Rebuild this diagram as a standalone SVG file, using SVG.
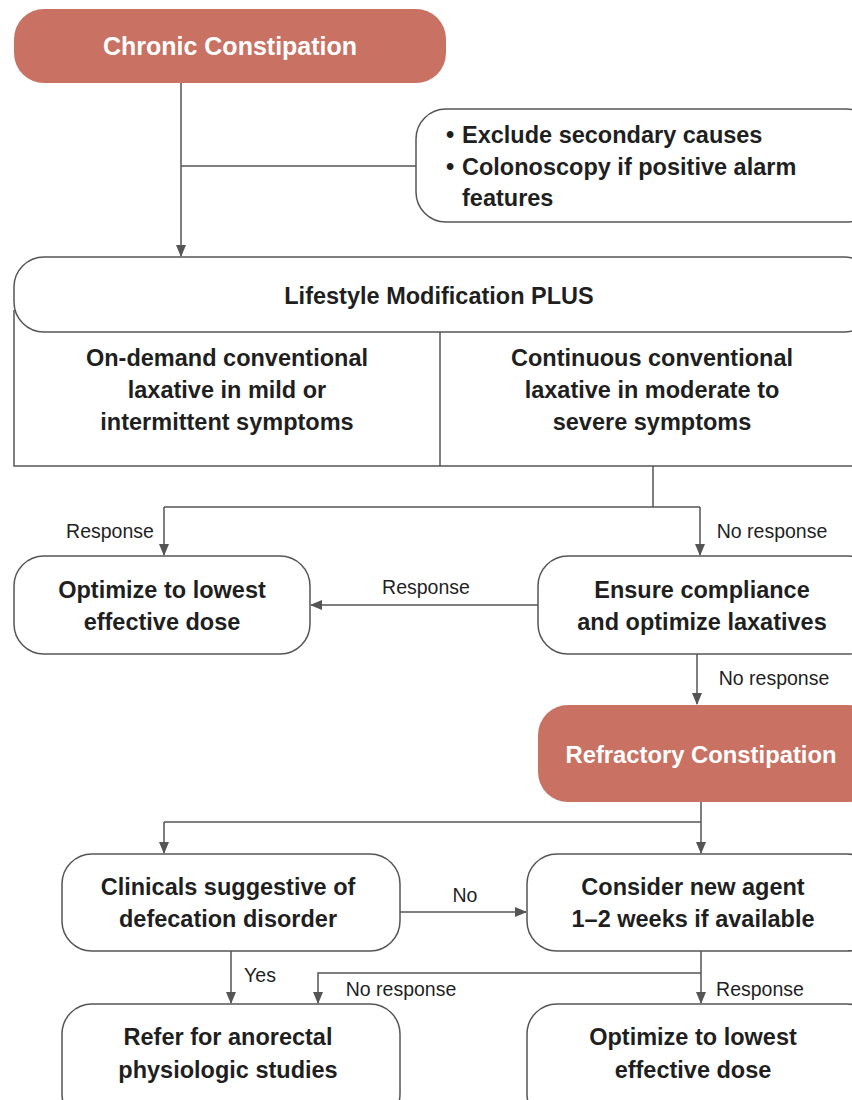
<svg xmlns="http://www.w3.org/2000/svg" width="852" height="1100" viewBox="0 0 852 1100">
<defs>
<marker id="ah" markerWidth="12" markerHeight="10" refX="11" refY="5" orient="auto" markerUnits="userSpaceOnUse">
<path d="M0,0 L12,5 L0,10 z" fill="#555"/>
</marker>
<style>
.box{fill:#fff;stroke:#555;stroke-width:1.5}
.red{fill:#C97163;stroke:none}
.t{font-family:"Liberation Sans",Arial,sans-serif;font-size:23.5px;font-weight:bold;fill:#1f1f1f;text-anchor:middle}
.ts{font-family:"Liberation Sans",Arial,sans-serif;font-size:23.5px;font-weight:bold;fill:#1f1f1f}
.tw{font-family:"Liberation Sans",Arial,sans-serif;font-size:25px;font-weight:bold;fill:#fff;text-anchor:middle}
.lb{font-family:"Liberation Sans",Arial,sans-serif;font-size:19.5px;fill:#1f1f1f;text-anchor:middle}
.c{fill:none;stroke:#555;stroke-width:1.5}
</style>
</defs>
<rect width="852" height="1100" fill="#fff"/>
<g id="connectors">
<path class="c" d="M181,83 V256" marker-end="url(#ah)"/>
<path class="c" d="M181,166 H416"/>
<path class="c" d="M653,466 V507"/>
<path class="c" d="M164,507 H700"/>
<path class="c" d="M164,507 V555" marker-end="url(#ah)"/>
<path class="c" d="M700,507 V555" marker-end="url(#ah)"/>
<path class="c" d="M538,605 H311" marker-end="url(#ah)"/>
<path class="c" d="M697,654 V704" marker-end="url(#ah)"/>
<path class="c" d="M701,802 V853" marker-end="url(#ah)"/>
<path class="c" d="M164,822 H701"/>
<path class="c" d="M164,822 V853" marker-end="url(#ah)"/>
<path class="c" d="M400,912 H526" marker-end="url(#ah)"/>
<path class="c" d="M231,951 V1003" marker-end="url(#ah)"/>
<path class="c" d="M701,951 V1003" marker-end="url(#ah)"/>
<path class="c" d="M701,973 H318 V1003" marker-end="url(#ah)"/>
<text class="lb" x="110" y="538">Response</text>
<text class="lb" x="772" y="538">No response</text>
<text class="lb" x="426" y="594">Response</text>
<text class="lb" x="774" y="685">No response</text>
<text class="lb" x="465" y="902">No</text>
<text class="lb" x="260" y="982">Yes</text>
<text class="lb" x="401" y="996">No response</text>
<text class="lb" x="760" y="996">Response</text>
</g>
<g id="chronic">
<rect class="red" x="14" y="9" width="432" height="74" rx="30"/>
<text class="tw" x="230" y="55">Chronic Constipation</text>
</g>
<g id="exclude">
<rect class="box" x="416" y="109" width="460" height="113" rx="30"/>
<text class="ts" x="446" y="143">•</text>
<text class="ts" x="462" y="143">Exclude secondary causes</text>
<text class="ts" x="446" y="175">•</text>
<text class="ts" x="462" y="175">Colonoscopy if positive alarm</text>
<text class="ts" x="462" y="206">features</text>
</g>
<g id="lifestyle">
<path class="box" d="M14,310 V466 H870"/>
<path class="c" d="M440,332 V466"/>
<rect class="box" x="14" y="257" width="860" height="75" rx="30"/>
<text class="t" x="439" y="304">Lifestyle Modification PLUS</text>
<text class="t" x="227" y="366">On-demand conventional</text>
<text class="t" x="227" y="398">laxative in mild or</text>
<text class="t" x="227" y="430">intermittent symptoms</text>
<text class="t" x="652" y="366">Continuous conventional</text>
<text class="t" x="652" y="398">laxative in moderate to</text>
<text class="t" x="652" y="430">severe symptoms</text>
</g>
<g id="optimize1">
<rect class="box" x="14" y="556" width="296" height="98" rx="30"/>
<text class="t" x="162" y="598">Optimize to lowest</text>
<text class="t" x="162" y="630">effective dose</text>
</g>
<g id="ensure">
<rect class="box" x="538" y="556" width="340" height="98" rx="30"/>
<text class="t" x="702" y="598">Ensure compliance</text>
<text class="t" x="702" y="630">and optimize laxatives</text>
</g>
<g id="refractory">
<rect class="red" x="538" y="705" width="340" height="97" rx="30"/>
<text class="tw" x="701" y="763" style="font-size:23.8px">Refractory Constipation</text>
</g>
<g id="clinicals">
<rect class="box" x="62" y="854" width="338" height="97" rx="30"/>
<text class="t" x="228" y="895">Clinicals suggestive of</text>
<text class="t" x="228" y="927">defecation disorder</text>
</g>
<g id="consider">
<rect class="box" x="527" y="854" width="350" height="97" rx="30"/>
<text class="t" x="693" y="895">Consider new agent</text>
<text class="t" x="693" y="927">1–2 weeks if available</text>
</g>
<g id="refer">
<rect class="box" x="62" y="1004" width="338" height="120" rx="30"/>
<text class="t" x="228" y="1045">Refer for anorectal</text>
<text class="t" x="228" y="1078">physiologic studies</text>
</g>
<g id="optimize2">
<rect class="box" x="527" y="1004" width="350" height="120" rx="30"/>
<text class="t" x="693" y="1045">Optimize to lowest</text>
<text class="t" x="693" y="1078">effective dose</text>
</g>
</svg>
